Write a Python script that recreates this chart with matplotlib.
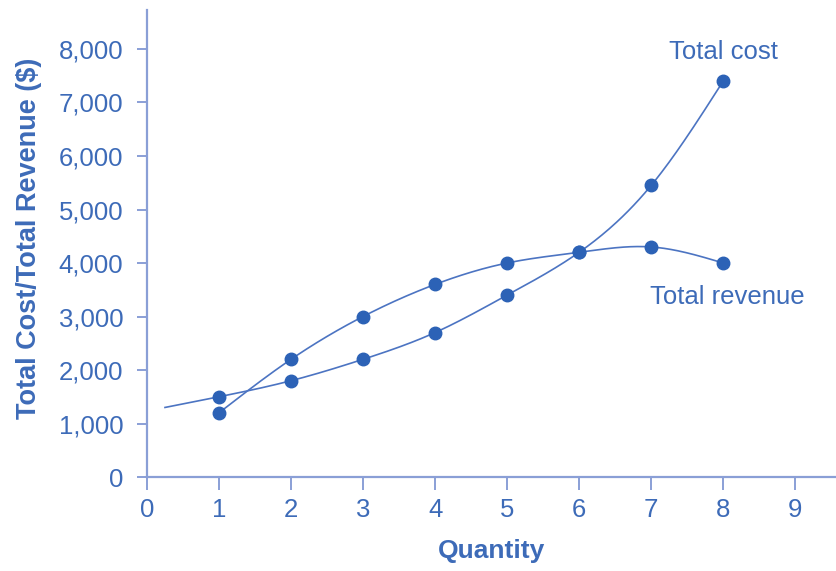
import numpy as np
import matplotlib
matplotlib.use("Agg")
import matplotlib.pyplot as plt
from matplotlib.ticker import FuncFormatter

plt.rcParams['font.family'] = ['Liberation Sans', 'DejaVu Sans']

quantity = [1, 2, 3, 4, 5, 6, 7, 8]
total_cost = [1500, 1800, 2200, 2700, 3400, 4200, 5450, 7400]
total_revenue = [1200, 2200, 3000, 3600, 4000, 4200, 4300, 4000]
cost_curve_start = (0.25, 1300)  # where the drawn cost curve begins (fixed cost extension)
x_ticks = list(range(0, 10))
y_ticks = list(range(0, 8001, 1000))

TEXT = '#3D6BB8'
MARK = '#2C62B6'
LINE = '#4C74C2'
SPINE = '#8A9FD6'


def natural_spline(xk, yk, n=300):
    xk = np.asarray(xk, float)
    yk = np.asarray(yk, float)
    m = len(xk)
    h = np.diff(xk)
    A = np.zeros((m, m))
    b = np.zeros(m)
    A[0, 0] = A[-1, -1] = 1
    for i in range(1, m - 1):
        A[i, i - 1] = h[i - 1]
        A[i, i] = 2 * (h[i - 1] + h[i])
        A[i, i + 1] = h[i]
        b[i] = 6 * ((yk[i + 1] - yk[i]) / h[i] - (yk[i] - yk[i - 1]) / h[i - 1])
    M = np.linalg.solve(A, b)
    xs = np.linspace(xk[0], xk[-1], n)
    idx = np.clip(np.searchsorted(xk, xs) - 1, 0, m - 2)
    x0, x1 = xk[idx], xk[idx + 1]
    hh = x1 - x0
    t0, t1 = x1 - xs, xs - x0
    ys = (M[idx] * t0 ** 3 / (6 * hh) + M[idx + 1] * t1 ** 3 / (6 * hh)
          + (yk[idx] / hh - M[idx] * hh / 6) * t0
          + (yk[idx + 1] / hh - M[idx + 1] * hh / 6) * t1)
    return xs, ys


fig = plt.figure(figsize=(8.37, 5.71), dpi=100)
ax = fig.add_axes([0.1756, 0.1646, 0.8244, 0.818])

cx, cy = natural_spline([cost_curve_start[0]] + quantity, [cost_curve_start[1]] + total_cost)
rx, ry = natural_spline(quantity, total_revenue)
ax.plot(cx, cy, color=LINE, lw=1.2, zorder=2)
ax.plot(rx, ry, color=LINE, lw=1.2, zorder=2)
ax.plot(quantity, total_cost, 'o', color=MARK, ms=9, zorder=3)
ax.plot(quantity, total_revenue, 'o', color=MARK, ms=9, zorder=3)

ax.set_xlim(0, 9.58)
ax.set_ylim(0, 8730)
ax.set_xticks(x_ticks)
ax.set_yticks(y_ticks)
ax.yaxis.set_major_formatter(FuncFormatter(lambda v, p: f'{int(v):,}'))

for s in ['top', 'right']:
    ax.spines[s].set_visible(False)
for s in ['left', 'bottom']:
    ax.spines[s].set_color(SPINE)
    ax.spines[s].set_linewidth(1.6)

ax.tick_params(axis='x', direction='out', length=9, width=1.4, color=SPINE,
               labelcolor=TEXT, labelsize=18.5, pad=6)
ax.tick_params(axis='y', direction='out', length=7, width=1.4, color=SPINE,
               labelcolor=TEXT, labelsize=18.5, pad=10)

ax.set_xlabel('Quantity', color=TEXT, fontsize=19, fontweight='bold', labelpad=12)
ax.set_ylabel('Total Cost/Total Revenue ($)', color=TEXT, fontsize=19.5,
              fontweight='bold', labelpad=12)
ax.yaxis.label.set_y(0.51)

ax.text(8.0, 7950, 'Total cost', color=TEXT, fontsize=18.5, ha='center', va='center')
ax.text(8.06, 3370, 'Total revenue', color=TEXT, fontsize=18.5, ha='center', va='center')

fig.savefig('out.png', dpi=100)
